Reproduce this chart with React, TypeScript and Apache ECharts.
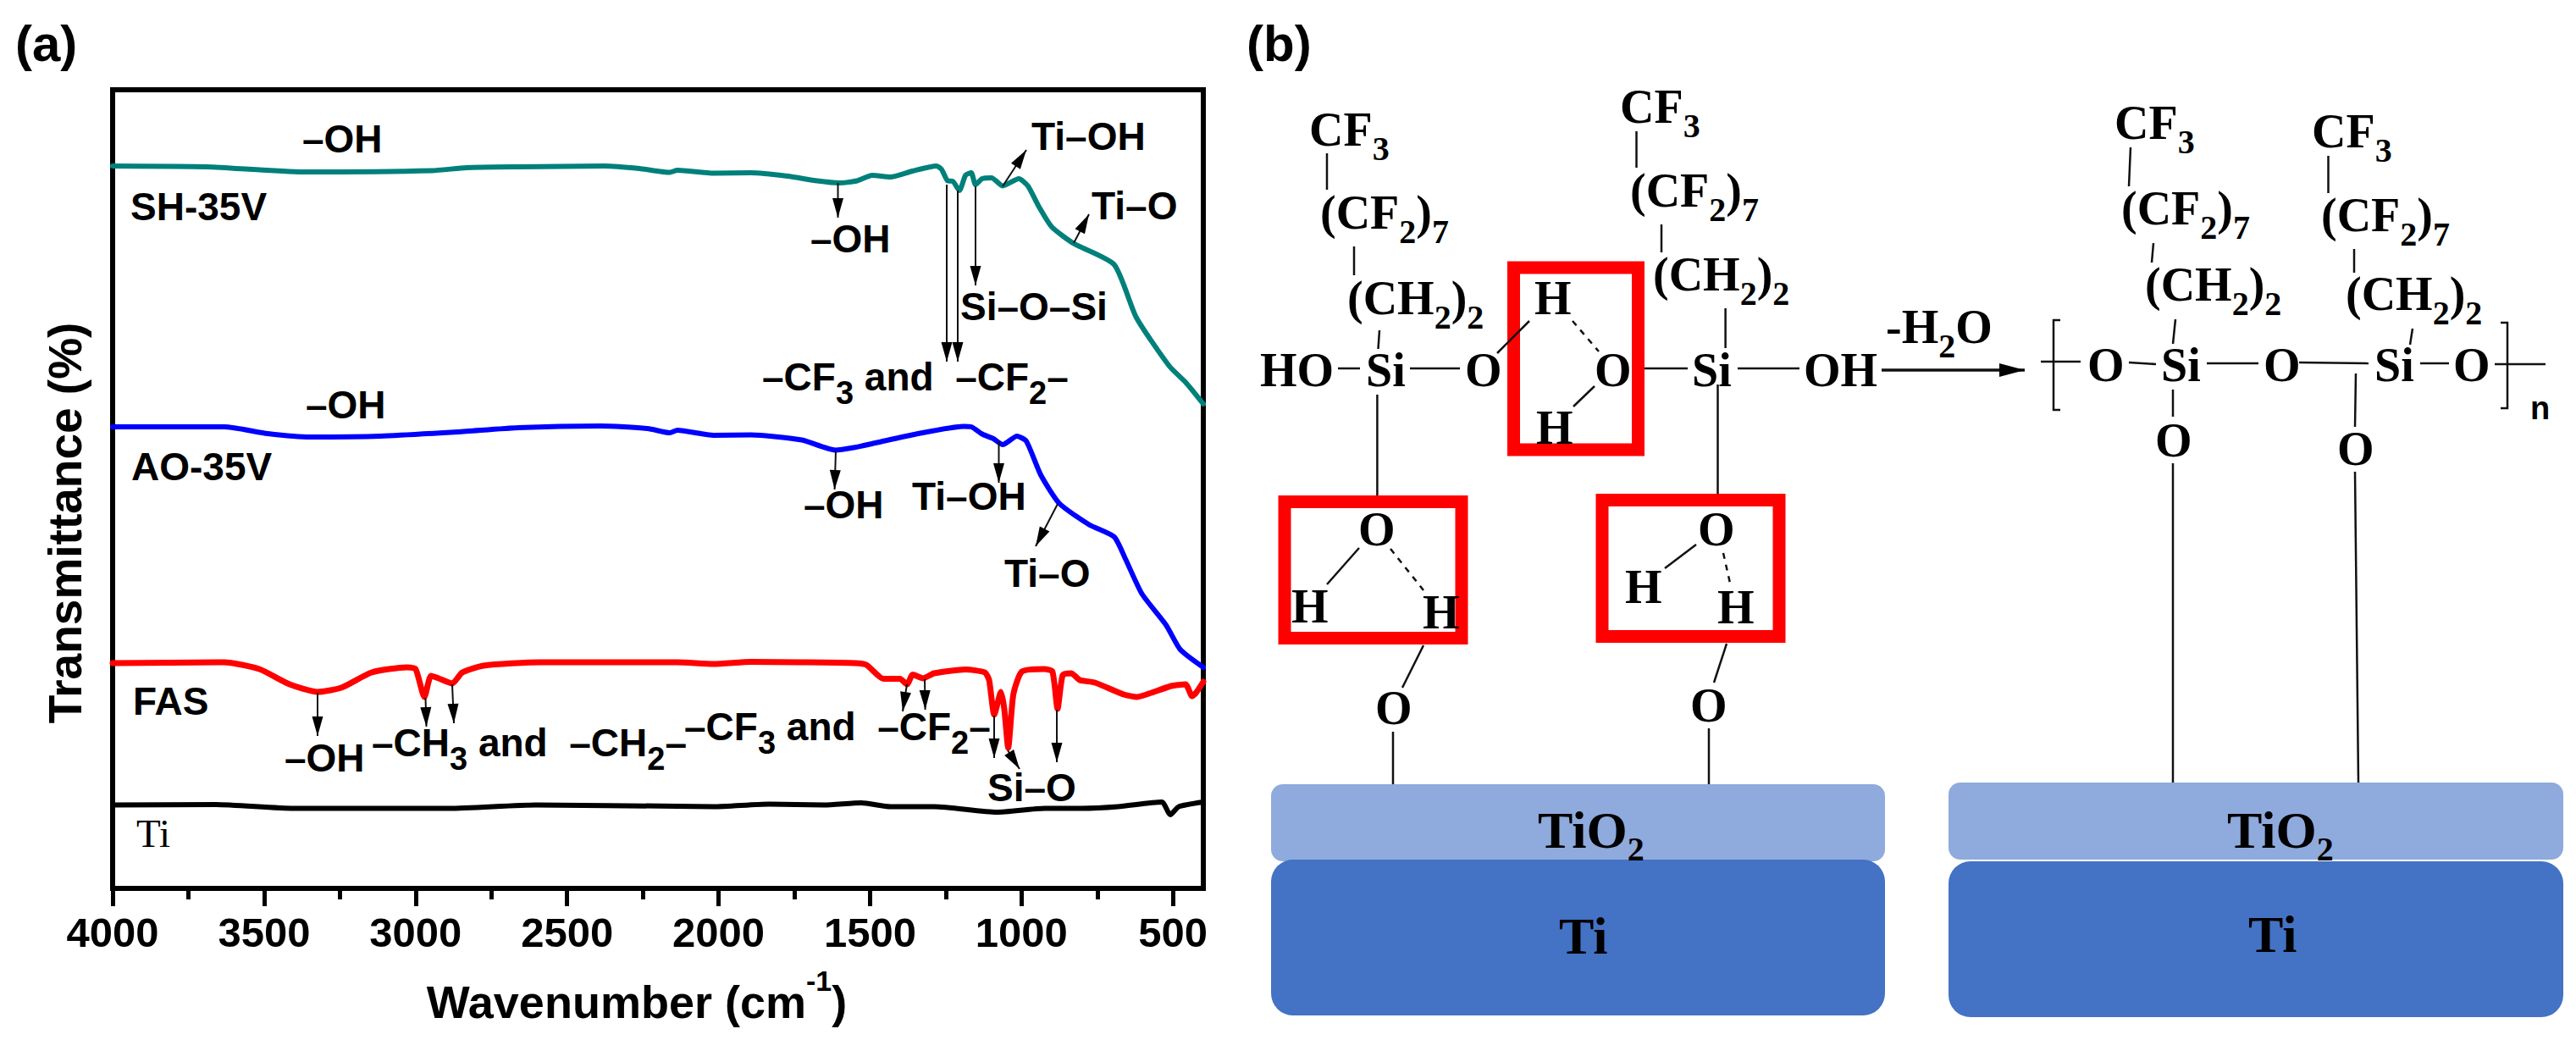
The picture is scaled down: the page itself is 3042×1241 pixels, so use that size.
import React, { useEffect, useRef } from "react";
import * as echarts from "echarts";

// ---------- Panel (a): FTIR spectra, [wavenumber cm-1, transmittance a.u.] ----------
const shValues = [
  [4000, 85.3], [3687, 85.2], [3374, 84.6], [2946, 84.75], [2832, 85.1], [2661, 85.2], [2376, 85.3],
  [2261, 85.0], [2161, 84.55], [2136, 84.8], [2016, 84.45], [1893, 84.5], [1772, 84.1], [1675, 83.55],
  [1602, 83.3], [1543, 83.55], [1493, 84.2], [1433, 84.0], [1360, 84.7], [1281, 85.3], [1264, 84.9],
  [1244, 83.55], [1227, 83.5], [1205, 82.4], [1185, 84.2], [1166, 84.5], [1152, 83.1], [1130, 83.8],
  [1099, 83.9], [1062, 82.95], [1009, 83.8], [979, 82.95], [942, 80.45], [900, 78.1], [828, 76.15],
  [694, 73.65], [621, 67.4], [513, 61.7], [457, 59.7], [400, 57.2],
];
const aoValues = [
  [4000, 54.5], [3631, 54.5], [3488, 53.7], [3346, 53.3], [3117, 53.4], [2860, 53.9], [2661, 54.4],
  [2390, 54.6], [2234, 54.3], [2161, 53.8], [2136, 54.1], [2016, 53.5], [1893, 53.55], [1725, 52.95],
  [1614, 51.75], [1554, 52.05], [1482, 52.6], [1348, 53.65], [1191, 54.55], [1166, 54.5], [1130, 53.65],
  [1093, 53.1], [1062, 52.4], [1015, 53.4], [984, 52.8], [937, 48.85], [875, 45.45], [777, 42.95],
  [694, 41.5], [657, 38.9], [603, 34.8], [523, 31.1], [476, 28.2], [400, 26.1],
];
const fasValues = [
  [4000, 26.6], [3631, 26.7], [3516, 25.9], [3416, 24.1], [3324, 23.2], [3245, 23.7], [3145, 25.5],
  [3030, 26.1], [3000, 25.9], [2971, 22.6], [2949, 25.1], [2924, 24.8], [2879, 24.2], [2846, 25.5],
  [2776, 26.3], [2589, 26.7], [2136, 26.7], [2016, 26.5], [1893, 26.75], [1736, 26.7], [1549, 26.6],
  [1512, 26.4], [1456, 24.75], [1401, 24.75], [1378, 24.1], [1359, 25.25], [1325, 24.8], [1289, 25.4],
  [1185, 25.85], [1121, 25.5], [1107, 24.6], [1090, 20.5], [1068, 23.2], [1057, 21.2], [1044, 16.6],
  [1027, 22.9], [999, 25.6], [925, 25.9], [898, 25.6], [881, 21.2], [864, 25.2], [836, 25.4], [808, 24.6],
  [758, 24.3], [663, 22.9], [618, 22.6], [571, 23.1], [506, 23.9], [459, 24.1], [437, 22.7], [424, 23.1], [400, 24.4],
];
const tiValues = [
  [4000, 9.85], [3659, 9.9], [3402, 9.45], [2888, 9.45], [2603, 9.85], [2136, 9.7], [2016, 9.65],
  [1834, 9.95], [1652, 9.85], [1529, 10.1], [1433, 9.65], [1287, 9.65], [1082, 9.0], [924, 9.45],
  [803, 9.45], [682, 9.65], [537, 10.2], [509, 8.7], [481, 9.65], [400, 10.2],
];
const majorTicks = [500, 1000, 1500, 2000, 2500, 3000, 3500, 4000];
const minorTicks = [750, 1250, 1750, 2250, 2750, 3250, 3750];

const SANS = '"Liberation Sans", Arial, sans-serif';
const SERIF = '"Liberation Serif", "Times New Roman", serif';
const INK = "#000";

type Kind = "sans" | "serif" | "plate";
const KINDS: Record<Kind, { font: number; sub: number; family: string; weight: string; L: number }> = {
  sans: { font: 46, sub: 38, family: SANS, weight: "bold", L: 75 },
  serif: { font: 56, sub: 40, family: SERIF, weight: "bold", L: 84 },
  plate: { font: 62, sub: 40, family: SERIF, weight: "bold", L: 84 },
};

// [text, left x, centre y]
const sansLabels: [string, number, number][] = [
  ["–OH", 357, 164], ["SH-35V", 154, 244], ["–OH", 361, 478], ["AO-35V", 155, 551], ["FAS", 157, 828],
  ["–OH", 336, 895], ["–CH_3 and  –CH_2–", 439, 877], ["–CF_3 and  –CF_2–", 808, 858], ["Si–O", 1166, 930],
  ["Ti–OH", 1218, 161], ["Ti–O", 1289, 243], ["–OH", 957, 282], ["Si–O–Si", 1134, 362],
  ["–CF_3 and  –CF_2–", 900, 445], ["–OH", 949, 596], ["Ti–OH", 1077, 586], ["Ti–O", 1186, 677],
];
const serifLabels: [string, number, number][] = [
  ["CF_3", 1546, 153], ["(CF_2)_7", 1559, 251], ["(CH_2)_2", 1591, 352], ["HO", 1488, 437], ["Si", 1613, 437],
  ["O", 1730, 437], ["O", 1883, 437], ["Si", 1998, 437], ["OH", 2130, 437], ["H", 1812, 352], ["H", 1814, 505],
  ["CF_3", 1913, 126], ["(CF_2)_7", 1925, 225], ["(CH_2)_2", 1952, 324],
  ["O", 1604, 625], ["H", 1525, 716], ["H", 1680, 723], ["O", 1624, 836],
  ["O", 2005, 625], ["H", 1919, 693], ["H", 2028, 717], ["O", 1996, 833],
  ["-H_2O", 2227, 386],
  ["O", 2465, 431], ["Si", 2552, 431], ["O", 2673, 431], ["Si", 2804, 431], ["O", 2897, 431],
  ["CF_3", 2497, 145], ["(CF_2)_7", 2505, 246], ["(CH_2)_2", 2533, 336],
  ["CF_3", 2730, 155], ["(CF_2)_7", 2741, 254], ["(CH_2)_2", 2770, 347],
  ["O", 2545, 520], ["O", 2760, 530],
];
const plateLabels: [string, number, number][] = [
  ["TiO_2", 1816, 980], ["Ti", 1841, 1105], ["TiO_2", 2630, 980], ["Ti", 2655, 1103],
];
// Thin arrows of the annotations in panel (a): x1, y1, x2, y2
const arrows: number[][] = [
  [989.5, 216, 989.5, 257], [1118, 218, 1118, 427], [1131, 225, 1131, 427], [1152, 220, 1152, 337],
  [1184, 220, 1212, 177], [1268, 287, 1286, 253], [987, 532, 985.6, 578], [1179.5, 521, 1179.5, 570],
  [1249, 595, 1223, 645], [375, 818, 375, 869], [502.5, 824, 503.5, 858], [534, 808, 536, 854],
  [1071, 808, 1066, 840], [1092, 802, 1092.6, 838], [1174, 845, 1174, 895], [1190, 886, 1204, 908],
  [1248, 838, 1248, 900],
];
// Bonds of the schematic in panel (b)
const bonds: number[][] = [
  [1567, 181, 1567, 224], [1599, 291, 1599, 325], [1629, 390, 1627.5, 412], [1580, 435, 1606, 435],
  [1665, 435, 1724, 435], [1768, 417, 1806, 379], [1883, 456, 1858, 480], [1942, 435, 1993, 435],
  [2052, 435, 2125, 435], [2037.6, 364, 2037.6, 411], [1932.5, 155, 1932.5, 198], [1962, 265, 1962, 298],
  [1626.4, 466, 1626.4, 585], [2028.5, 454, 2028.5, 583], [1605, 647, 1567, 690], [1681, 762, 1656, 812],
  [1645, 864, 1645, 926], [2003, 643, 1966, 671], [2039, 760, 2024, 806], [2018, 860, 2018, 926],
  [2410, 427, 2457, 427], [2514, 428, 2546, 430], [2606, 429, 2667, 429], [2715, 428, 2797, 429],
  [2858, 429, 2892, 429], [2946, 430, 3006, 430], [2516, 174, 2514, 220], [2543, 287, 2541, 310],
  [2569, 377, 2566, 406], [2749.5, 184, 2749.5, 228], [2780, 294, 2780, 322], [2849, 388, 2846, 407],
  [2566, 460, 2566, 492], [2782, 441, 2781, 504], [2566, 547, 2566, 924], [2781, 557, 2785, 924],
];
const dashedBonds: number[][] = [
  [1857, 379, 1888, 415], [1642, 648, 1681, 697], [2035, 653, 2044, 693],
];
const redBoxes: number[][] = [
  [1787.5, 316, 147, 215], [1517, 592.5, 209, 161], [1892, 590.5, 209, 161],
];

function formula(text: string, k: Kind) {
  const c = KINDS[k];
  const main = `${c.weight} ${c.font}px ${c.family}`;
  const sub = `${c.weight} ${c.sub}px ${c.family}`;
  const parts = text.split(/_(.)/);
  const s = parts.map((p, i) => (p === "" ? "" : `{${i % 2 ? "s" : "m"}|${p}}`)).join("");
  return {
    text: s,
    rich: {
      m: { font: main, fill: INK, lineHeight: c.L },
      s: { font: sub, fill: INK, lineHeight: c.L, verticalAlign: "bottom" },
    },
  };
}

function label(text: string, x: number, y: number, k: Kind) {
  return {
    type: "text", x, y, silent: true, z: 10,
    style: { legacy: false, ...formula(text, k), align: "left", verticalAlign: "middle" },
  };
}

function plain(text: string, x: number, y: number, font: string) {
  return {
    type: "text", x, y, silent: true, z: 10,
    style: { legacy: false, text, font, fill: INK, align: "left", verticalAlign: "middle" },
  };
}

function line(b: number[], lineWidth: number, extra: object = {}) {
  return {
    type: "line", silent: true, z: 9,
    shape: { x1: b[0], y1: b[1], x2: b[2], y2: b[3] },
    style: { stroke: "#111", lineWidth, ...extra },
  };
}

function head(b: number[], len: number, half: number, fill = "#000") {
  const dx = b[2] - b[0], dy = b[3] - b[1];
  const d = Math.hypot(dx, dy) || 1;
  const ux = dx / d, uy = dy / d;
  const bx = b[2] - ux * len, by = b[3] - uy * len;
  return {
    type: "polygon", silent: true, z: 9,
    shape: { points: [[b[2], b[3]], [bx - uy * half, by + ux * half], [bx + uy * half, by - ux * half]] },
    style: { fill },
  };
}

function plate(x: number, y: number, width: number, height: number, r: number, fill: string) {
  return { type: "rect", silent: true, z: 5, shape: { x, y, width, height, r }, style: { fill } };
}

function buildGraphics() {
  const out: any[] = [];
  out.push(plate(1501, 926, 725, 91, 14, "#8faadc"), plate(1501, 1015, 725, 184, 26, "#4472c4"));
  out.push(plate(2301, 924, 726, 91, 14, "#8faadc"), plate(2301, 1017, 726, 184, 26, "#4472c4"));
  redBoxes.forEach((b) =>
    out.push({
      type: "rect", silent: true, z: 8,
      shape: { x: b[0], y: b[1], width: b[2], height: b[3] },
      style: { fill: "none", stroke: "#ff0000", lineWidth: 15 },
    })
  );
  bonds.forEach((b) => out.push(line(b, 2.5)));
  dashedBonds.forEach((b) => out.push(line(b, 2.5, { lineDash: [7, 7] })));
  arrows.forEach((a) => out.push(line(a, 2), head(a, 23, 6.5)));
  const react = [2222, 437, 2391, 437];
  out.push(line(react, 3.5), head(react, 30, 8));
  out.push(
    { type: "polyline", silent: true, z: 9, shape: { points: [[2433, 378], [2425, 378], [2425, 484], [2433, 484]] }, style: { fill: "none", stroke: "#111", lineWidth: 2.5 } },
    { type: "polyline", silent: true, z: 9, shape: { points: [[2953, 381], [2961, 381], [2961, 482], [2953, 482]] }, style: { fill: "none", stroke: "#111", lineWidth: 2.5 } }
  );
  sansLabels.forEach(([t, x, y]) => out.push(label(t, x, y, "sans")));
  serifLabels.forEach(([t, x, y]) => out.push(label(t, x, y, "serif")));
  plateLabels.forEach(([t, x, y]) => out.push(label(t, x, y, "plate")));
  out.push(plain("Ti", 161, 984, `47px ${SERIF}`));
  out.push(plain("n", 2988, 482, `bold 38px ${SANS}`));
  out.push(plain("(a)", 18, 51, `bold 60px ${SANS}`));
  out.push(plain("(b)", 1472, 51, `bold 60px ${SANS}`));
  return out;
}

function curve(name: string, data: number[][], color: string, width: number) {
  return {
    name, type: "line", data, xAxisIndex: 0, yAxisIndex: 0,
    showSymbol: false, smooth: 0.2, silent: true,
    lineStyle: { color, width, cap: "round", join: "round" },
  };
}

export default function App() {
  const ref = useRef<HTMLDivElement>(null);
  useEffect(() => {
    if (!ref.current) return;
    const chart = echarts.init(ref.current, undefined, { renderer: "svg" });
    chart.setOption({
      animation: false,
      backgroundColor: "#fff",
      grid: { show: true, left: 133, right: 3042 - 1421, top: 106, bottom: 1241 - 1049, borderColor: "#000", borderWidth: 6, backgroundColor: "transparent", containLabel: false },
      xAxis: [
        {
          type: "value", inverse: true, min: 400, max: 4000, position: "bottom",
          name: "Wavenumber (cm{sup|-1})", nameLocation: "middle", nameGap: 92,
          nameTextStyle: {
            fontFamily: SANS, fontWeight: "bold", fontSize: 54, color: "#000", lineHeight: 84,
            padding: [0, 50, 0, 0],
            rich: { sup: { fontFamily: SANS, fontWeight: "bold", fontSize: 34, color: "#000", lineHeight: 84, verticalAlign: "top" } },
          },
          splitLine: { show: false },
          axisLine: { show: true, onZero: false, lineStyle: { color: "#000", width: 6 } },
          axisTick: { show: true, length: 21, customValues: majorTicks, lineStyle: { color: "#000", width: 5 } },
          axisLabel: { show: true, customValues: majorTicks, margin: 27, formatter: (v: number) => String(v), fontFamily: SANS, fontWeight: "bold", fontSize: 49, color: "#000", hideOverlap: false },
        },
        {
          type: "value", inverse: true, min: 400, max: 4000, position: "bottom",
          splitLine: { show: false }, axisLine: { show: false },
          axisTick: { show: true, length: 13, customValues: minorTicks, lineStyle: { color: "#000", width: 5 } },
          axisLabel: { show: false },
        },
      ],
      yAxis: {
        type: "value", min: 0, max: 94.3, name: "Transmittance (%)", nameLocation: "middle", nameGap: 29,
        nameRotate: 90,
        nameTextStyle: { fontFamily: SANS, fontWeight: "bold", fontSize: 55, color: "#000", padding: [0, 80, 0, 0] },
        splitLine: { show: false }, axisTick: { show: false }, axisLabel: { show: false },
        axisLine: { show: true, lineStyle: { color: "#000", width: 6 } },
      },
      series: [
        curve("SH-35V", shValues, "#00807a", 6),
        curve("AO-35V", aoValues, "#0000ff", 6),
        curve("FAS", fasValues, "#ff0000", 7),
        curve("Ti", tiValues, "#000000", 6),
      ],
      graphic: { elements: buildGraphics() },
    });
    return () => chart.dispose();
  }, []);
  return <div ref={ref} style={{ position: "fixed", left: 0, top: 0, width: 3042, height: 1241, background: "#fff" }} />;
}
